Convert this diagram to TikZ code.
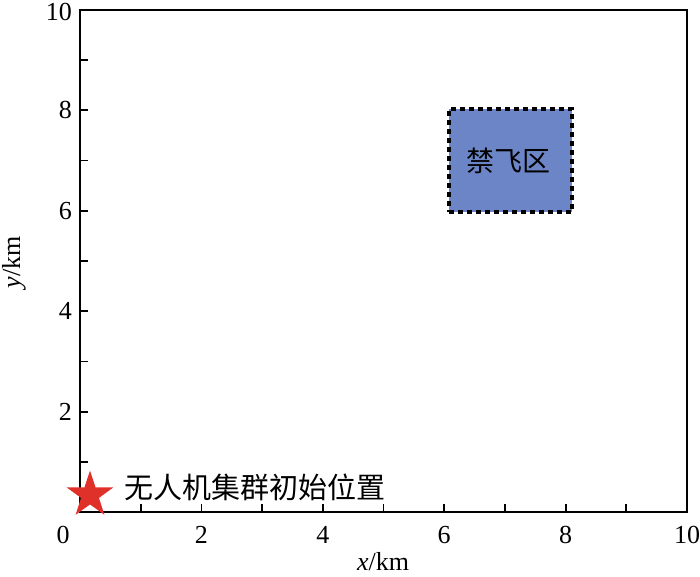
\documentclass[tikz,border=0pt]{standalone}
\usepackage{fontspec}
\setmainfont{Liberation Serif}
\newfontfamily\cjk{Noto Sans CJK SC}
\usetikzlibrary{shapes.geometric}
\definecolor{zonefill}{HTML}{6B85C6}
\definecolor{starred}{HTML}{E0302A}
\begin{document}
\begin{tikzpicture}[x=1pt,y=-1pt,
  axisline/.style={line width=1.8pt,black},
  ticklab/.style={font=\fontsize{26}{26}\selectfont,inner sep=0pt},
  cjklab/.style={font=\cjk\fontsize{28}{28}\selectfont,inner sep=0pt}]
\useasboundingbox (0,0) rectangle (700,577);
% axes box
\draw[axisline] (80,10) rectangle (687,512);
% ticks
\foreach \i in {1,...,9} {
  \draw[axisline] ({80+60.7*\i},512) -- ({80+60.7*\i},504);
  \draw[axisline] (80,{512-50.2*\i}) -- (88,{512-50.2*\i});
}
% x tick labels
\node[ticklab] (x0) at (63,535) {0};
\foreach \v/\i in {2/2,4/4,6/6,8/8,10/10}
  \node[ticklab] (x\v) at ({80+60.7*\i},535) {\v};
% y tick labels
\foreach \v/\i in {2/2,4/4,6/6,8/8}
  \node[ticklab,anchor=east] (y\v) at (72,{512-50.2*\i}) {\v};
\node[ticklab,anchor=east] (y10) at (72,12) {10};
% axis titles
\node[ticklab] (xt) at (383,562) {\textit{x}/km};
\node[ticklab,rotate=90] (yt) at (14,262) {\textit{y}/km};
% no-fly zone
\node[draw=black,fill=zonefill,line width=4.6pt,dash pattern=on 4.6pt off 4.4pt,
  minimum width=123pt,minimum height=103pt,inner sep=0pt] (zone) at (510.5,160.5) {};
\node[cjklab] (zlab) at (508,161) {禁飞区};
% star
\node[star,star points=5,star point ratio=2.6,fill=starred,minimum size=49pt,inner sep=0pt] (st) at (90,495) {};
\node[cjklab,anchor=west,font=\cjk\fontsize{29}{29}\selectfont] (slab) at (124,487) {无人机集群初始位置};
\end{tikzpicture}
\end{document}
